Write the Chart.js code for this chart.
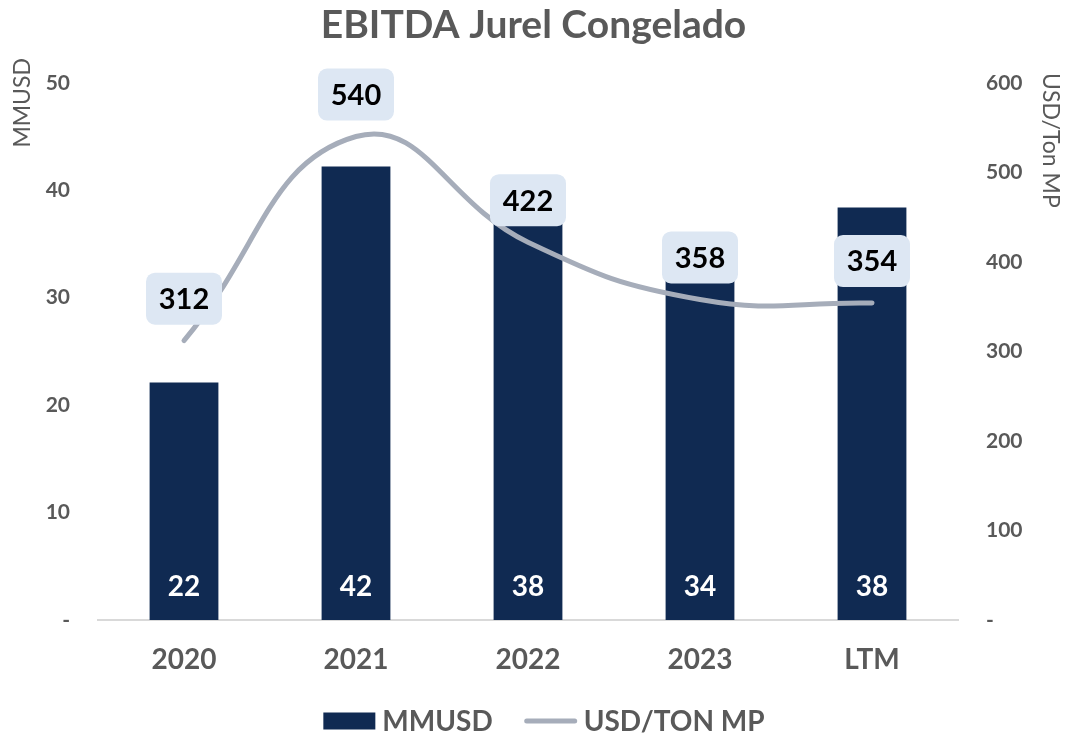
<!DOCTYPE html>
<html>
<head>
<meta charset="utf-8">
<script src="https://cdn.jsdelivr.net/npm/chart.js@4.4.1/dist/chart.umd.min.js"></script>
<style>
  html, body { margin: 0; padding: 0; background: #fff; }
  #wrap { width: 1067px; height: 735px; }
</style>
</head>
<body>
<div id="wrap"><canvas id="myChart" width="1067" height="735"></canvas></div>
<script>
const years = ["2020", "2021", "2022", "2023", "LTM"];
const ebitdaMM = [22.1, 42.2, 38, 33.8, 38.4];
const usdPerTon = [312, 540, 422, 358, 354];
const leftTicks = [0, 10, 20, 30, 40, 50];
const rightTicks = [0, 100, 200, 300, 400, 500, 600];

const NAVY = "#102a52";
const LINE_GREY = "#a6adba";
const TEXT_GREY = "#595959";
const FONT = "Lato, 'Open Sans', sans-serif";

// labels in the bars and boxed labels over the line
const valueLabels = {
  id: "valueLabels",
  afterDatasetsDraw(chart) {
    const ctx = chart.ctx;
    const bars = chart.getDatasetMeta(0);
    const line = chart.getDatasetMeta(1);
    ctx.save();
    ctx.textAlign = "center";
    ctx.textBaseline = "middle";

    ctx.font = "bold 28px " + FONT;
    ctx.fillStyle = "#ffffff";
    bars.data.forEach((bar, i) => {
      ctx.fillText(Math.round(ebitdaMM[i]), bar.x, chart.chartArea.bottom - 33);
    });

    ctx.font = "bold 29px " + FONT;
    line.data.forEach((pt, i) => {
      const w = 76, h = 52;
      const cx = pt.x, cy = pt.y - 42;
      ctx.fillStyle = "#dde7f3";
      ctx.beginPath();
      ctx.roundRect(cx - w / 2, cy - h / 2, w, h, 9);
      ctx.fill();
      ctx.fillStyle = "#000000";
      ctx.fillText(usdPerTon[i], cx, cy + 1);
    });
    ctx.restore();
  },
};

// axis titles near the top of each axis, legend along the bottom
const axisTitlesAndLegend = {
  id: "axisTitlesAndLegend",
  afterDraw(chart) {
    const ctx = chart.ctx;
    ctx.save();
    ctx.font = "23px " + FONT;
    ctx.fillStyle = TEXT_GREY;
    ctx.textBaseline = "middle";
    ctx.translate(23, 58);
    ctx.rotate(-Math.PI / 2);
    ctx.textAlign = "right";
    ctx.fillText("MMUSD", 0, 0);
    ctx.restore();

    ctx.save();
    ctx.font = "23px " + FONT;
    ctx.fillStyle = TEXT_GREY;
    ctx.textBaseline = "middle";
    ctx.translate(1050, 73);
    ctx.rotate(Math.PI / 2);
    ctx.textAlign = "left";
    ctx.fillText("USD/Ton MP", 0, 0);
    ctx.restore();

    // legend
    const sets = chart.data.datasets;
    ctx.save();
    ctx.font = "bold 28px " + FONT;
    ctx.textBaseline = "middle";
    ctx.textAlign = "left";
    const keyW = 52, keyGap = 7, itemGap = 32;
    const widths = sets.map((d) => keyW + keyGap + ctx.measureText(d.label).width);
    const total = widths.reduce((a, b) => a + b, 0) + itemGap * (sets.length - 1);
    let x = 544 - total / 2;
    const y = 721;
    sets.forEach((d, i) => {
      if (d.type === "bar") {
        ctx.fillStyle = d.backgroundColor;
        ctx.fillRect(x, y - 8.5, keyW, 17);
      } else {
        ctx.strokeStyle = d.borderColor;
        ctx.lineWidth = d.borderWidth;
        ctx.lineCap = "round";
        ctx.beginPath();
        ctx.moveTo(x + 2, y);
        ctx.lineTo(x + keyW - 2, y);
        ctx.stroke();
      }
      ctx.fillStyle = TEXT_GREY;
      ctx.fillText(d.label, x + keyW + keyGap, y + 1);
      x += widths[i] + itemGap;
    });
    ctx.restore();
  },
};

const ctx = document.getElementById("myChart");

new Chart(ctx, {
  data: {
    labels: years,
    datasets: [
      {
        type: "bar",
        label: "MMUSD",
        data: ebitdaMM,
        backgroundColor: NAVY,
        borderWidth: 0,
        barPercentage: 0.4,
        categoryPercentage: 1,
        yAxisID: "y",
        order: 2,
      },
      {
        type: "line",
        label: "USD/TON MP",
        data: usdPerTon,
        borderColor: LINE_GREY,
        backgroundColor: LINE_GREY,
        borderWidth: 5,
        borderCapStyle: "round",
        tension: 0.45,
        pointRadius: 0,
        yAxisID: "y1",
        order: 1,
      },
    ],
  },
  options: {
    responsive: false,
    animation: false,
    layout: { padding: 0 },
    plugins: {
      tooltip: { enabled: false },
      legend: { display: false },
      title: {
        display: true,
        text: "EBITDA Jurel Congelado",
        color: TEXT_GREY,
        font: { family: FONT, size: 39, weight: "bold" },
        padding: { top: 2, bottom: 34 },
      },
    },
    scales: {
      x: {
        afterFit: (scale) => { scale.height = 115; },
        grid: { display: false, drawTicks: false },
        border: { color: "#d9d9d9", width: 2 },
        ticks: {
          color: TEXT_GREY,
          padding: 23,
          font: { family: FONT, size: 28, weight: "bold" },
        },
      },
      y: {
        position: "left",
        min: 0,
        max: 50,
        afterFit: (scale) => { scale.width = 98; },
        afterBuildTicks: (scale) => { scale.ticks = leftTicks.map((v) => ({ value: v })); },
        grid: { display: false, drawTicks: false },
        border: { display: false },
        ticks: {
          color: TEXT_GREY,
          padding: 28,
          font: { family: FONT, size: 21, weight: "bold" },
          callback: (v) => (v === 0 ? "-" : v),
        },
      },
      y1: {
        position: "right",
        min: 0,
        max: 600,
        afterFit: (scale) => { scale.width = 109; },
        afterBuildTicks: (scale) => { scale.ticks = rightTicks.map((v) => ({ value: v })); },
        grid: { display: false, drawTicks: false },
        border: { display: false },
        ticks: {
          color: TEXT_GREY,
          padding: 28,
          font: { family: FONT, size: 21, weight: "bold" },
          callback: (v) => (v === 0 ? "-" : v),
        },
      },
    },
  },
  plugins: [valueLabels, axisTitlesAndLegend],
});
</script>
</body>
</html>
